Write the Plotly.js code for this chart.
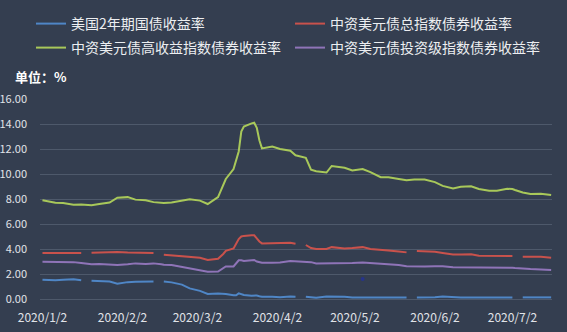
<!DOCTYPE html>
<html>
<head>
<meta charset="utf-8">
<script src="https://cdn.plot.ly/plotly-3.0.1.min.js"></script>
<style>html,body{margin:0;padding:0;background:#343e50;}#chart{width:567px;height:332px;}</style>
</head>
<body>
<div id="chart"></div>
<script>
// Trading dates (sampled), null = US market holiday gap
const dates = ['2020-01-02','2020-01-07','2020-01-10','2020-01-14','2020-01-17','2020-01-20','2020-01-21','2020-01-24','2020-01-28','2020-01-31',
'2020-02-04','2020-02-07','2020-02-11','2020-02-14','2020-02-17','2020-02-18','2020-02-21','2020-02-25','2020-02-28',
'2020-03-03','2020-03-06','2020-03-10','2020-03-12','2020-03-13','2020-03-16','2020-03-17','2020-03-18','2020-03-19','2020-03-20','2020-03-23','2020-03-24','2020-03-25','2020-03-26','2020-03-27','2020-03-31',
'2020-04-03','2020-04-07','2020-04-09','2020-04-10','2020-04-13','2020-04-15','2020-04-17','2020-04-21','2020-04-23','2020-04-28',
'2020-05-01','2020-05-05','2020-05-08','2020-05-12','2020-05-15','2020-05-19','2020-05-22','2020-05-25','2020-05-26','2020-05-29',
'2020-06-02','2020-06-05','2020-06-09','2020-06-12','2020-06-16','2020-06-19','2020-06-23','2020-06-26','2020-06-30',
'2020-07-02','2020-07-03','2020-07-06','2020-07-09','2020-07-13','2020-07-17'];

const us2y = [1.55,1.50,1.55,1.58,1.50,null,1.47,1.45,1.40,1.22,
1.35,1.38,1.42,1.41,null,1.40,1.33,1.15,0.85,
0.65,0.40,0.45,0.43,0.40,0.30,0.30,0.45,0.38,0.32,0.27,0.30,0.28,0.22,0.19,0.19,
0.15,0.20,0.19,null,0.19,0.17,0.11,0.20,0.20,0.19,
0.13,0.13,0.13,0.13,0.13,0.13,0.13,null,0.13,0.13,
0.15,0.20,0.14,0.13,0.13,0.13,0.13,0.13,0.13,
0.13,null,0.13,0.13,0.13,0.13];

const totalIdx = [3.68,3.68,3.70,3.68,3.68,null,3.70,3.72,3.72,3.76,
3.72,3.70,3.70,3.68,null,3.55,3.50,3.44,3.40,
3.30,3.12,3.22,3.60,3.85,4.05,4.40,4.80,5.00,5.05,5.10,5.10,4.85,4.60,4.45,4.48,
4.45,4.50,4.42,null,4.32,4.08,4.00,4.00,4.15,4.05,
4.08,4.15,4.00,3.95,3.88,3.80,3.73,null,3.84,3.82,
3.78,3.68,3.56,3.56,3.58,3.46,3.44,3.44,3.44,
3.44,null,3.38,3.38,3.38,3.30];

const highYield = [7.90,7.70,7.68,7.55,7.57,7.50,7.50,7.60,7.72,8.10,
8.15,7.95,7.90,7.75,7.68,7.68,7.72,7.85,7.97,
7.87,7.60,8.15,9.10,9.60,10.40,11.10,11.80,13.40,13.80,14.05,14.10,13.70,12.70,12.05,12.20,
12.00,11.86,11.50,11.45,11.30,10.35,10.22,10.12,10.64,10.50,
10.28,10.40,10.15,9.74,9.74,9.60,9.50,9.56,9.57,9.55,
9.35,9.05,8.85,8.98,9.02,8.80,8.66,8.67,8.82,
8.80,8.72,8.52,8.40,8.42,8.32];

const invGrade = [2.99,2.99,2.99,2.95,2.88,2.80,2.78,2.80,2.72,2.72,
2.78,2.85,2.80,2.85,2.78,2.75,2.72,2.55,2.45,
2.30,2.18,2.20,2.50,2.60,2.60,2.85,3.10,3.10,3.05,3.10,3.12,3.00,2.92,2.90,2.90,
2.92,3.04,3.02,2.99,3.00,2.95,2.85,2.85,2.85,2.88,
2.88,2.92,2.88,2.82,2.80,2.72,2.62,2.60,2.60,2.60,
2.62,2.62,2.55,2.55,2.52,2.50,2.50,2.50,2.50,
2.50,2.48,2.42,2.40,2.37,2.32];

const strayDate = ['2020-05-05'];
const strayValue = [1.6];

const seriesNames = ['美国2年期国债收益率','中资美元债总指数债券收益率','中资美元债高收益指数债券收益率','中资美元债投资级指数债券收益率'];
const tickDates = ['2020-01-02','2020-02-02','2020-03-02','2020-04-02','2020-05-02','2020-06-02','2020-07-02'];
const tickLabels = ['2020/1/2','2020/2/2','2020/3/2','2020/4/2','2020/5/2','2020/6/2','2020/7/2'];
const yTicks = [0,2,4,6,8,10,12,14,16];

const FONT = '"Noto Sans CJK SC","Noto Sans",sans-serif';
const mk = (y, name, color, legend) => ({
  x: dates, y: y, name: name, type: 'scatter', mode: 'lines',
  line: {color: color, width: 2}, connectgaps: false, legend: legend
});

const traces = [
  mk(us2y, seriesNames[0], '#4f86c6', 'legend'),
  mk(totalIdx, seriesNames[1], '#c9524c', 'legend2'),
  mk(highYield, seriesNames[2], '#a8c85a', 'legend3'),
  mk(invGrade, seriesNames[3], '#8f74b8', 'legend4'),
  {x: strayDate, y: strayValue, type: 'scatter', mode: 'markers', showlegend: false,
   marker: {color: '#26348a', size: 4}, hoverinfo: 'skip'}
];

const leg = (xpx, ypx) => ({
  orientation: 'h', xref: 'container', yref: 'container', xanchor: 'left', yanchor: 'middle',
  x: xpx/567, y: 1 - ypx/332, bgcolor: 'rgba(0,0,0,0)',
  font: {family: FONT, size: 14, color: '#eceef1'}, itemwidth: 30, borderwidth: 0
});

const layout = {
  width: 567, height: 332,
  paper_bgcolor: '#343e50', plot_bgcolor: '#343e50',
  margin: {l: 40, r: 15, t: 99, b: 33},
  font: {family: FONT, color: '#e0e3e8'},
  showlegend: true,
  legend: leg(31, 24),
  legend2: leg(290, 24),
  legend3: leg(31, 48),
  legend4: leg(290, 48),
  xaxis: {
    type: 'date', range: ['2020-01-01 01:00', '2020-07-17 08:00'],
    tickvals: tickDates, ticktext: tickLabels, showgrid: false, zeroline: false, showline: false,
    ticks: '', tickfont: {family: FONT, size: 12, color: '#e0e3e8'}, ticklabelstandoff: 10
  },
  yaxis: {
    range: [0, 16], tickvals: yTicks, tickformat: '.2f', showgrid: true, gridcolor: '#4e596b', gridwidth: 1,
    zeroline: true, zerolinecolor: '#4e596b', zerolinewidth: 1, showline: false, ticks: '',
    tickfont: {family: FONT, size: 11, color: '#e0e3e8'}, ticklabelstandoff: 12
  },
  annotations: [{
    text: '<b>单位：%</b>', xref: 'paper', yref: 'paper', x: -27/512, y: (299 - 76)/200,
    xanchor: 'left', yanchor: 'middle', showarrow: false,
    font: {family: FONT, size: 13, color: '#ffffff'}
  }]
};

Plotly.newPlot('chart', traces, layout, {staticPlot: true, displayModeBar: false});
</script>
</body>
</html>
